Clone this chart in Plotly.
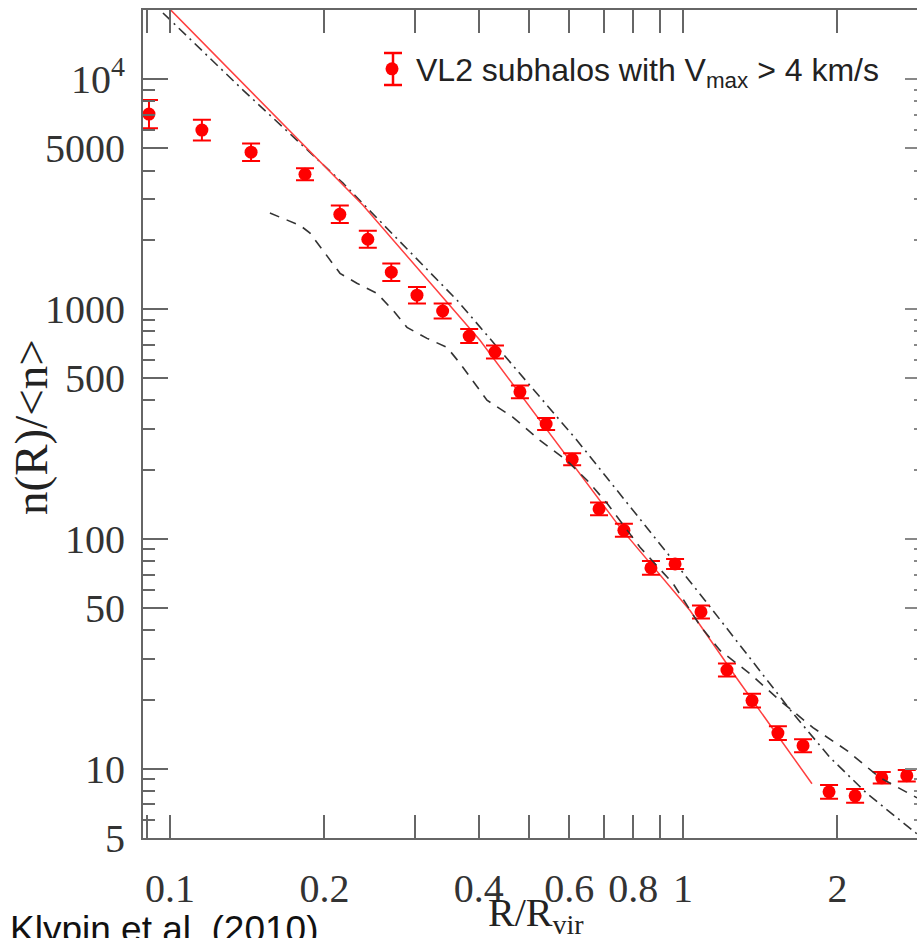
import numpy as np
import plotly.graph_objects as go

# ---------------- data ----------------
r_data = [0.0910, 0.1154, 0.1439, 0.1833, 0.2143, 0.243, 0.270, 0.303, 0.340, 0.383,
          0.430, 0.481, 0.541, 0.608, 0.686, 0.767, 0.866, 0.965, 1.084, 1.218,
          1.363, 1.531, 1.714, 1.926, 2.165, 2.44, 2.73]
n_data = [7040, 6000, 4810, 3855, 2580, 2010, 1445, 1148, 980, 763,
          650, 436, 316, 222, 135, 109, 74.8, 77.8, 48.1, 26.9,
          19.8, 14.3, 12.6, 7.94, 7.63, 9.14, 9.33]
err_dex = [0.061, 0.045, 0.038, 0.026, 0.038, 0.037, 0.038, 0.036, 0.033, 0.030,
           0.028, 0.028, 0.026, 0.026, 0.028, 0.028, 0.030, 0.022, 0.028, 0.028,
           0.030, 0.030, 0.028, 0.030, 0.030, 0.025, 0.025]

fit_x = [0.1004, 0.1817, 0.2378, 0.4020, 0.7536, 1.032, 1.274, 1.784]
fit_y = [19950, 5210, 2825, 731, 112.2, 48.8, 24.7, 8.61]

dashdot_x = [0.0969, 0.1388, 0.2174, 0.3627, 0.6216, 1.104, 1.639, 1.934, 2.284, 2.858]
dashdot_y = [19380, 8956, 3525, 1092, 268, 54.0, 17.4, 11.2, 7.80, 5.21]

dashed_x = [0.1566, 0.1792, 0.1875, 0.2145, 0.2314, 0.2532, 0.2721, 0.2897, 0.3170, 0.3467,
            0.3674, 0.4148, 0.4663, 0.5263, 0.5940, 0.6500, 0.7109, 0.8245, 0.956, 1.079,
            1.181, 1.351, 1.546, 1.792, 2.088, 2.421, 2.858]
dashed_y = [2612, 2312, 2137, 1429, 1294, 1169, 987, 832, 745, 681,
            581, 401, 338, 268, 219, 180, 143, 91.9, 64.0, 42.0,
            32.7, 25.9, 19.8, 15.1, 12.0, 9.14, 7.48]

y_tickvals = [5, 10, 50, 100, 500, 1000, 5000, 10000]
y_ticktext = ["5", "10", "50", "100", "500", "1000", "5000", "10<sup>4</sup>"]
y_minor = [6, 7, 8, 9, 20, 30, 40, 60, 70, 80, 90, 200, 300, 400, 600, 700, 800, 900,
           2000, 3000, 4000, 6000, 7000, 8000, 9000]
x_tickvals = [0.1, 0.2, 0.4, 0.6, 0.8, 1, 2]
x_ticktext = ["0.1", "0.2", "0.4", "0.6", "0.8", "1", "2"]
x_minor = [0.09, 0.3, 0.5, 0.7, 0.9]

# ---------------- figure ----------------
n_arr = np.array(n_data)
e_arr = np.array(err_dex)
err_plus = n_arr * (10 ** e_arr - 1)
err_minus = n_arr * (1 - 10 ** (-e_arr))

RED = "#ff0000"
GREY = "#333333"
AX = "#666666"

fig = go.Figure()
fig.add_trace(go.Scatter(x=dashed_x, y=dashed_y, mode="lines", showlegend=False, yaxis="y2",
                         line=dict(color=GREY, width=1.6, dash="10px,8px")))
fig.add_trace(go.Scatter(x=dashdot_x, y=dashdot_y, mode="lines", showlegend=False,
                         line=dict(color=GREY, width=1.6, dash="10px,5px,2px,5px")))
fig.add_trace(go.Scatter(x=fit_x, y=fit_y, mode="lines", showlegend=False,
                         line=dict(color="#ff4040", width=1.5)))
fig.add_trace(go.Scatter(
    x=r_data, y=n_data, mode="markers",
    name="VL2 subhalos with V<sub>max</sub> &gt; 4 km/s",
    marker=dict(color=RED, size=13),
    error_y=dict(type="data", symmetric=False, array=err_plus, arrayminus=err_minus,
                 color=RED, thickness=2, width=9),
))

SERIF = "Liberation Serif"
W, H = 917, 938
L, R, T, B = 143, 0, 10, 100
pw, ph = W - L - R, H - T - B


def px2paper(px, py):
    return (px - L) / pw, (H - B - py) / ph


fig.update_layout(
    width=W, height=H,
    margin=dict(l=L, r=R, t=T, b=B),
    paper_bgcolor="white", plot_bgcolor="white",
    showlegend=True,
    legend=dict(x=px2paper(368, 0)[0], y=px2paper(0, 69)[1], xanchor="left", yanchor="middle",
                bgcolor="rgba(0,0,0,0)", font=dict(family="Liberation Sans", size=32, color="#222222"),
                itemwidth=38),
    xaxis=dict(type="log", range=[-1.0526, 0.4561], showgrid=False, zeroline=False,
               showline=True, linecolor=AX, linewidth=2, mirror="allticks",
               ticks="inside", ticklen=23, tickwidth=2, tickcolor=AX,
               tickvals=x_tickvals, ticktext=x_ticktext,
               tickfont=dict(family=SERIF, size=40, color="#333333"),
               ticklabelstandoff=14,
               minor=dict(tickvals=x_minor, ticks="inside", ticklen=12, tickwidth=2, tickcolor=AX)),
    yaxis=dict(type="log", range=[0.699, 4.3004], showgrid=False, zeroline=False,
               showline=True, linecolor=AX, linewidth=2, mirror=False,
               ticks="inside", ticklen=25, tickwidth=2, tickcolor=AX,
               tickvals=y_tickvals, ticktext=y_ticktext,
               tickfont=dict(family=SERIF, size=40, color="#333333"),
               ticklabelstandoff=8,
               minor=dict(tickvals=y_minor, ticks="inside", ticklen=12, tickwidth=2, tickcolor=AX)),
    yaxis2=dict(type="log", range=[0.699, 4.3004], overlaying="y", side="right", anchor="x",
                showgrid=False, zeroline=False, showline=False, showticklabels=False,
                ticks="inside", ticklen=12, tickwidth=2, tickcolor="#888888", tickvals=y_tickvals,
                minor=dict(tickvals=y_minor, ticks="inside", ticklen=3, tickwidth=2, tickcolor="#888888")),
)

# legend error-bar glyph
lx, _ = px2paper(393, 0)
lx0, _ = px2paper(384, 0)
lx1, _ = px2paper(402, 0)
_, ly0 = px2paper(0, 53)
_, ly1 = px2paper(0, 85)
for (a, b, c, d) in [(lx, ly0, lx, ly1), (lx0, ly0, lx1, ly0), (lx0, ly1, lx1, ly1)]:
    fig.add_shape(type="line", xref="paper", yref="paper", x0=a, y0=b, x1=c, y1=d,
                  line=dict(color=RED, width=2.5))

ax_, ay_ = px2paper(31, 427)
fig.add_annotation(text="n(R)/&lt;n&gt;", x=ax_, y=ay_, xref="paper", yref="paper",
                   textangle=-90, showarrow=False, xanchor="center", yanchor="middle",
                   font=dict(family=SERIF, size=47, color="#222222"))
bx_, by_ = px2paper(536, 888)
fig.add_annotation(text="R/R<sub>vir</sub>", x=bx_, y=by_, xref="paper", yref="paper",
                   showarrow=False, xanchor="center", yanchor="top",
                   font=dict(family=SERIF, size=40, color="#222222"))
cx_, cy_ = px2paper(8, 907)
fig.add_annotation(text="Klypin et al. (2010)", x=cx_, y=cy_, xref="paper", yref="paper",
                   showarrow=False, xanchor="left", yanchor="top",
                   font=dict(family="Liberation Sans", size=37, color="#111111"))

fig.write_html("out.html")
